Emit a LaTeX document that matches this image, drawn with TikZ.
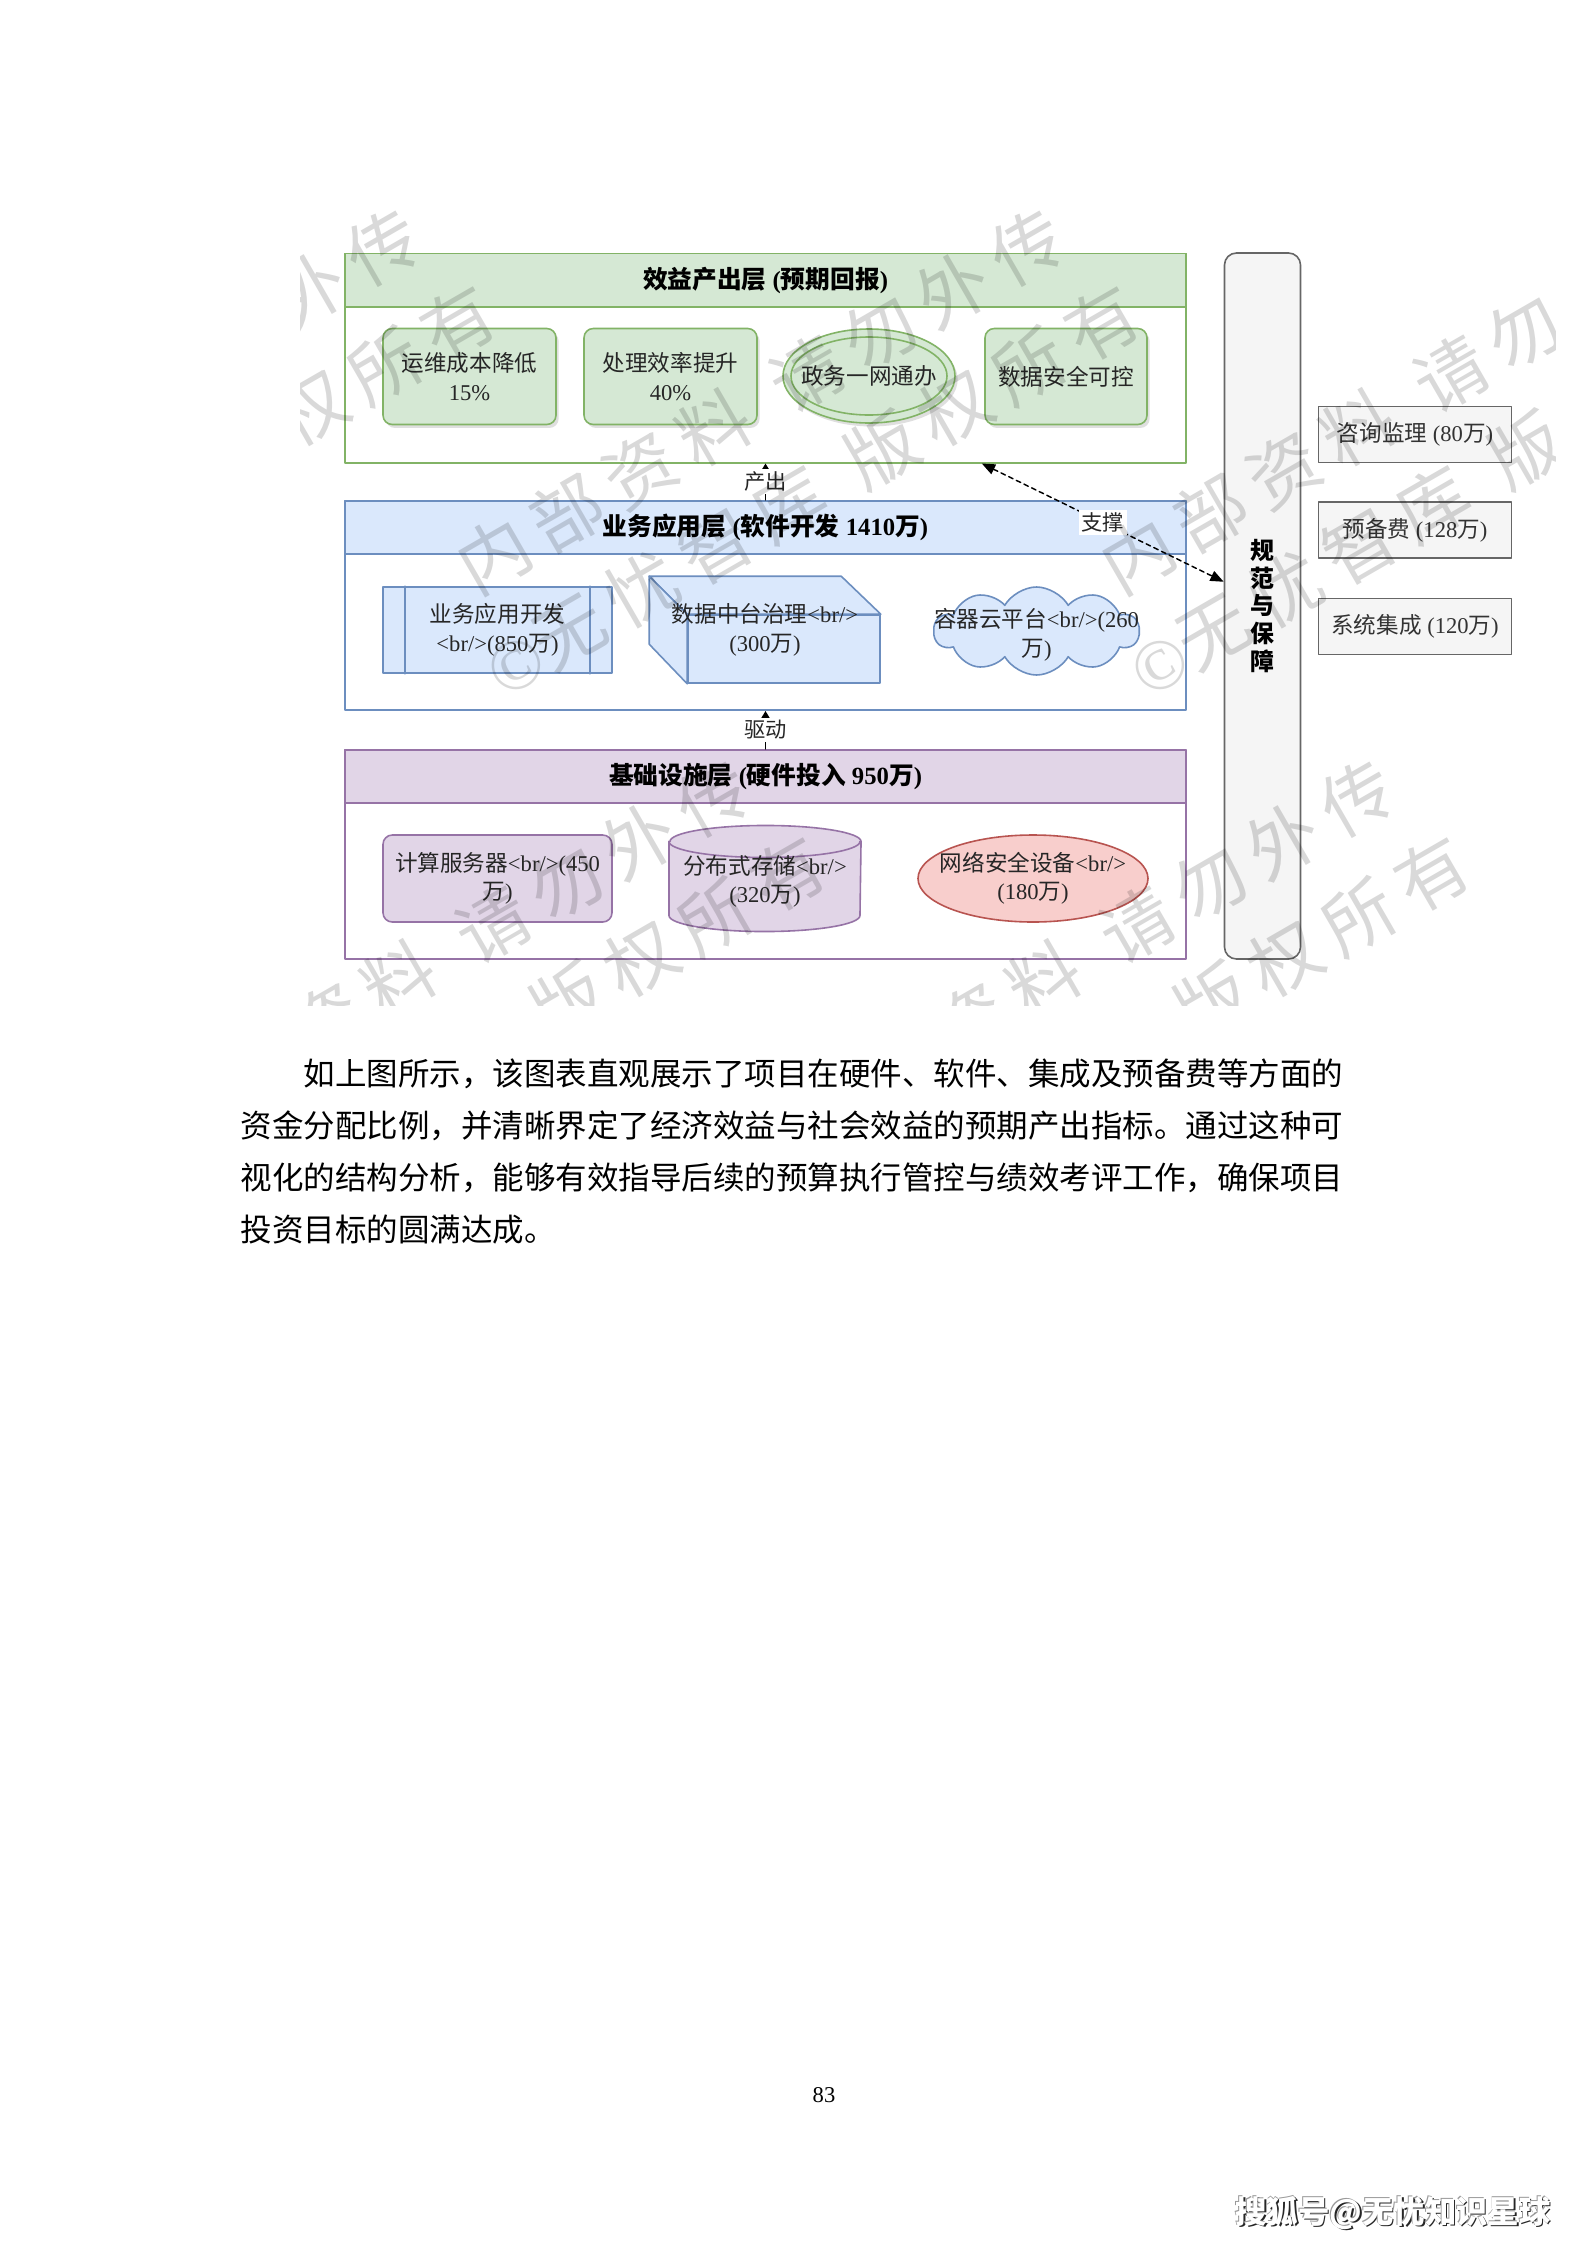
\documentclass[tikz,border=0pt]{standalone}
\usepackage{fontspec}
\setmainfont{Liberation Serif}
\newfontfamily\cjkfont{Noto Sans CJK SC}
\newfontfamily\wmfont[LetterSpace=18]{Noto Sans CJK SC}
\usetikzlibrary{arrows.meta,positioning,calc,shapes.geometric,shapes.symbols,shadows}

% CJK characters pick the CJK font on their own
\XeTeXinterchartokenstate=1
\newXeTeXintercharclass\cjkclass
\newcount\cjkcount
\newcommand{\setcjkrange}[2]{%
  \cjkcount=#1
  \loop
    \XeTeXcharclass\cjkcount=\cjkclass
    \advance\cjkcount by 1
  \ifnum\cjkcount<#2 \repeat}
\setcjkrange{"3000}{"3040}
\setcjkrange{"4E00}{"A000}
\setcjkrange{"FF00}{"FFF0}
\XeTeXcharclass`\@=\cjkclass
\newcommand{\cjkswitch}{\cjkfont}
\newcommand{\latswitch}{\rmfamily}
\XeTeXinterchartoks 0 \cjkclass = {\cjkswitch}
\XeTeXinterchartoks 4095 \cjkclass = {\cjkswitch}
\XeTeXinterchartoks \cjkclass 0 = {\latswitch}
\XeTeXinterchartoks \cjkclass 4095 = {\latswitch}

\newcommand{\pxu}{0.013233cm}

\definecolor{greenline}{HTML}{82B366}
\definecolor{greenfill}{HTML}{D5E8D4}
\definecolor{blueline}{HTML}{6C8EBF}
\definecolor{bluefill}{HTML}{DAE8FC}
\definecolor{purpline}{HTML}{9673A6}
\definecolor{purpfill}{HTML}{E1D5E7}
\definecolor{redline}{HTML}{B85450}
\definecolor{redfill}{HTML}{F8CECC}
\definecolor{grayline}{HTML}{666666}
\definecolor{grayfill}{HTML}{F5F5F5}
\definecolor{textgray}{HTML}{333333}

\tikzset{
  layer/.style={draw=#1, fill=white, line width=0.75pt, inner sep=0pt,
    minimum width=841*\pxu, minimum height=209*\pxu},
  layerhead/.style 2 args={draw=#1, fill=#2, line width=0.75pt, inner sep=0pt, anchor=north,
    minimum width=841*\pxu, minimum height=53*\pxu, font=\bfseries\fontsize{9.3}{11}\selectfont},
  celltext/.style={align=center, inner sep=0pt, text=black!85, font=\fontsize{8.5}{10.7}\selectfont},
  cell/.style={celltext, line width=0.6pt},
  greenbox/.style={cell, draw=greenline, fill=greenfill, rounded corners=3.5pt, minimum height=96*\pxu,
    drop shadow={shadow xshift=1pt, shadow yshift=-1.3pt, opacity=0.25}},
  greenell/.style={cell, ellipse, draw=greenline, fill=greenfill, minimum width=172*\pxu, minimum height=94*\pxu,
    drop shadow={shadow xshift=1pt, shadow yshift=-1.3pt, opacity=0.25}},
  bluebox/.style={cell, draw=blueline, fill=bluefill},
  bluecloud/.style={cell, cloud, cloud puffs=10, cloud puff arc=120, aspect=2.2, draw=blueline, fill=bluefill,
    minimum width=205*\pxu, minimum height=88*\pxu},
  purpbox/.style={cell, draw=purpline, fill=purpfill, rounded corners=3.5pt, minimum width=229*\pxu, minimum height=87*\pxu},
  purpcyl/.style={inner sep=0pt, minimum width=191*\pxu, minimum height=105*\pxu},
  cylline/.style={draw=purpline, line width=0.6pt},
  redell/.style={cell, ellipse, draw=redline, fill=redfill, minimum width=230*\pxu, minimum height=87*\pxu},
  guardbox/.style={draw=grayline, fill=grayfill, line width=0.6pt, rounded corners=4.5pt,
    minimum width=76*\pxu, minimum height=706*\pxu},
  guardtext/.style={align=center, inner sep=0pt, text=black, font=\bfseries\fontsize{9}{10.5}\selectfont},
  sidebox/.style={cell, draw=grayline, fill=grayfill, text=textgray, minimum width=193*\pxu, minimum height=56*\pxu},
  flowline/.style={draw=black, line width=0.5pt, -{Triangle[width=3.5pt,length=3pt]}},
  supportline/.style={draw=black, line width=0.55pt, dash pattern=on 1.8pt off 1.4pt,
    {Triangle[width=4pt,length=5pt]}-{Triangle[width=4pt,length=5pt]}},
  flowlabel/.style={fill=white, inner sep=1pt, text=black!85, font=\fontsize{8}{9}\selectfont},
  watermark/.style={rotate=30, align=center, text=black, text opacity=0.15,
    font={\def\cjkswitch{\wmfont}\fontsize{27}{39}\selectfont}},
  bodyline/.style={anchor=base west, inner sep=0pt, font=\cjkfont\fontsize{11.86}{19.9}\selectfont},
  sohu/.style={inner sep=0pt, font=\bfseries\fontsize{11.8}{14}\selectfont}
}

\begin{document}
\begin{tikzpicture}[x=\pxu, y=-\pxu, line cap=round, line join=round]

\fill[white] (0,0) rectangle (1587,2245);
\useasboundingbox (0,0) rectangle (1587,2245);

% three layers
\node[layer=greenline] (l1) at (765.5,358) {};
\node[layerhead={greenline}{greenfill}] (l1head) at (l1.north) {效益产出层 (预期回报)};
\node[layer=blueline] (l2) at (765.5,605.5) {};
\node[layerhead={blueline}{bluefill}] (l2head) at (l2.north) {业务应用层 (软件开发 1410万)};
\node[layer=purpline] (l3) at (765.5,854.5) {};
\node[layerhead={purpline}{purpfill}] (l3head) at (l3.north) {基础设施层 (硬件投入 950万)};

% output layer
\node[greenbox, minimum width=173*\pxu] (cost) at (469.5,376.5) {运维成本降低\\15\%};
\node[greenbox, minimum width=173*\pxu] (speed) at (670.5,376.5) {处理效率提升\\40\%};
\node[greenell] (gov) at (869,376) {};
\draw[greenline, line width=0.6pt] (gov.center) ellipse [x radius=78, y radius=39];
\node[celltext] (govtext) at (gov.center) {政务一网通办};
\node[greenbox, minimum width=162*\pxu] (secure) at (1066,376.5) {数据安全可控};

% application layer
\node[bluebox, minimum width=229*\pxu, minimum height=86*\pxu] (appdev) at (497.5,630) {业务应用开发\\<br/>(850万)};
\draw[blueline, line width=0.6pt] ($(appdev.north west)+(23,0)$) -- ($(appdev.south west)+(23,0)$)
  ($(appdev.north east)+(-23,0)$) -- ($(appdev.south east)+(-23,0)$);
\node[bluebox, minimum width=192*\pxu, minimum height=68*\pxu] (datamid) at (784,649) {};
\draw[blueline, fill=bluefill, line width=0.6pt] (datamid.north west) -- ++(-38,-38) -- ++(192,0) -- (datamid.north east) -- cycle;
\draw[blueline, fill=bluefill, line width=0.6pt] (datamid.north west) -- ++(-38,-38) -- ++(0,68) -- (datamid.south west) -- cycle;
\node[celltext] (datamidtext) at ($(datamid.center)+(-19,-19)$) {数据中台治理<br/>\\(300万)};
\node[bluecloud] (cloudplat) at (1036.5,631) {};
\node[celltext] (cloudtext) at ($(cloudplat.center)+(0,4)$) {容器云平台<br/>(260\\万)};

% infrastructure layer
\node[purpbox] (compute) at (497.5,878.5) {计算服务器<br/>(450\\万)};
\node[purpcyl] (storage) at (765,878.5) {};
\draw[cylline, fill=purpfill] ($(storage.north west)+(0,16)$) -- ($(storage.south west)+(0,-16)$)
  arc[start angle=180, end angle=0, x radius=95.5, y radius=16] -- ($(storage.north east)+(0,16)$)
  arc[start angle=0, end angle=-180, x radius=95.5, y radius=16] -- cycle;
\draw[cylline] ($(storage.north west)+(0,16)$) arc[start angle=180, end angle=0, x radius=95.5, y radius=16];
\node[celltext] (storagetext) at ($(storage.center)+(0,3)$) {分布式存储<br/>\\(320万)};
\node[redell] (netsec) at (1033,878.5) {};
\node[celltext] (netsectext) at (netsec.center) {网络安全设备<br/>\\(180万)};

% guarantee column and side costs
\node[guardbox] (guard) at (1262.5,606) {};
\node[guardtext] (guardlabel) at (guard.center) {规\\范\\与\\保\\障};
\node[sidebox] (consult) at (1415,434.5) {咨询监理 (80万)};
\node[sidebox] (reserve) at (1415,530) {预备费 (128万)};
\node[sidebox] (integ) at (1415,626.5) {系统集成 (120万)};

% connectors
\draw[flowline] (l2.north) -- node[flowlabel] {产出} (l1.south);
\draw[flowline] (l3.north) -- node[flowlabel] {驱动} (l2.south);
\draw[supportline] (l1.-26.3) -- node[flowlabel] {支撑} (guard.148.5);

% watermark over the figure
\begin{scope}
\clip (300,210) rectangle (1555,1005);
\foreach \cx/\cy [count=\k] in {142/446, 786/446, 1430/446, 472/997, 1116/997}
  \node[watermark] (wm\k) at (\cx,\cy) {内部资料\hspace{0.5em}请勿外传\\©无忧智库\hspace{0.5em}版权所有};
\end{scope}

% text below the figure
\node[bodyline] (para1) at (240,1085) {\hspace*{2em}如上图所示，该图表直观展示了项目在硬件、软件、集成及预备费等方面的};
\node[bodyline] (para2) at (240,1137) {资金分配比例，并清晰界定了经济效益与社会效益的预期产出指标。通过这种可};
\node[bodyline] (para3) at (240,1189) {视化的结构分析，能够有效指导后续的预算执行管控与绩效考评工作，确保项目};
\node[bodyline] (para4) at (240,1241) {投资目标的圆满达成。};

\node[inner sep=0pt, font=\fontsize{8.5}{10}\selectfont] (pageno) at (824,2095) {83};

\node[sohu, text=black!85] (sohushade) at (1394.5,2214.5) {搜狐号@无忧知识星球};
\node[sohu, text=black!40] (sohuedge) at (1392.3,2212.3) {搜狐号@无忧知识星球};
\node[sohu, text=white] (sohumark) at (1393,2213) {搜狐号@无忧知识星球};

\end{tikzpicture}
\end{document}
